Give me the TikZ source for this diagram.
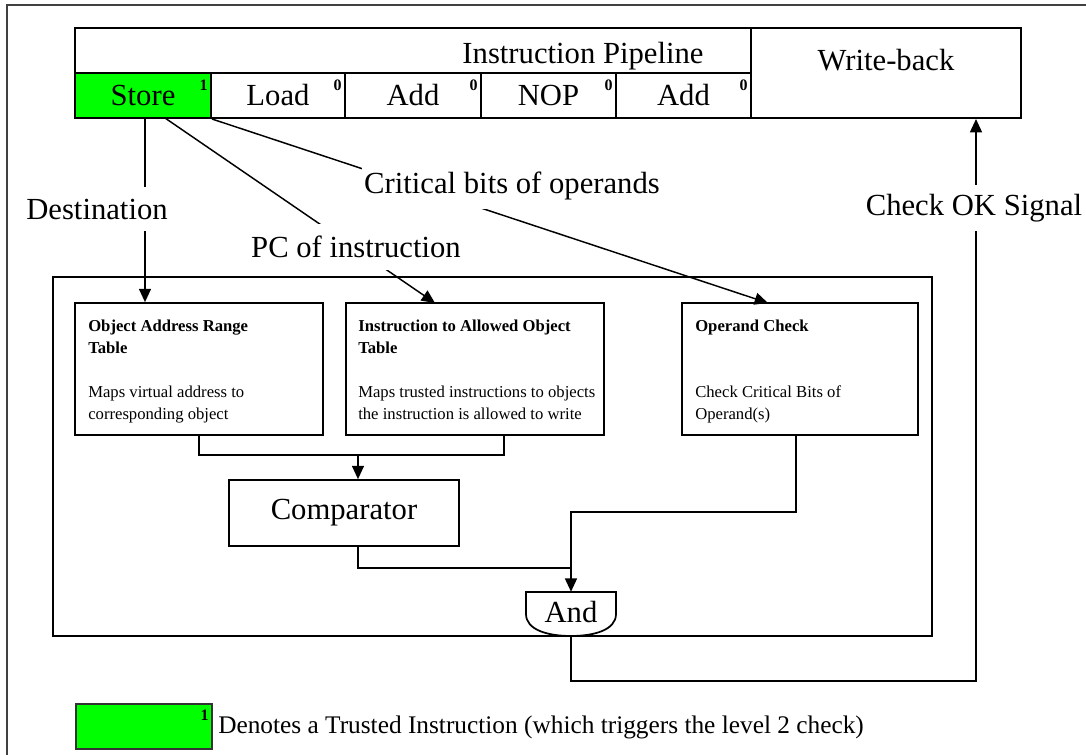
\documentclass[tikz,border=0pt]{standalone}
\usepackage{fontspec}
\setmainfont{Liberation Serif}
\usetikzlibrary{arrows.meta,fit,calc}
\definecolor{trustgreen}{RGB}{0,255,0}
\begin{document}
\begin{tikzpicture}[x=0.75pt,y=-0.75pt,
  big/.style={font=\fontsize{23}{27}\selectfont},
  small/.style={font=\fontsize{12.5}{16.5}\selectfont},
  cell/.style={draw, line width=1.5pt, inner sep=0pt},
  box/.style={draw, line width=1.3pt, inner sep=0pt},
  boxtext/.style={small, anchor=north west, align=left, inner sep=0pt},
  wire/.style={line width=1.1pt},
  arrow/.style={wire, -{Triangle[length=10pt,width=9pt]}},
  tag/.style={font=\fontsize{12}{12}\selectfont\bfseries, inner sep=0pt, anchor=north east},
  lbl/.style={big, fill=white, inner xsep=2pt}
]
\useasboundingbox (0,0) rectangle (1086,754);
\clip (0,0) rectangle (1086,754);
\draw[line width=1.4pt, black!75] (7,5) rectangle (1110,780);

% pipeline
\node[cell, fit={(75,28)(1021,118)}] (pipe) {};
\node[cell, fit={(751,28)(1021,118)}] (wb) {};
\node[big] (pipet) at (583,56) {Instruction Pipeline};
\node[big] (wbt) at (886,60) {Write-back};
\node[cell, fill=trustgreen, fit={(75,73)(211,118)}] (s1) {};
\node[cell, fit={(211,73)(345,118)}] (s2) {};
\node[cell, fit={(345,73)(481,118)}] (s3) {};
\node[cell, fit={(481,73)(616,118)}] (s4) {};
\node[cell, fit={(616,73)(751,118)}] (s5) {};
\node[big] (s1t) at (s1.center) {Store};
\node[big] (s2t) at (s2.center) {Load};
\node[big] (s3t) at (s3.center) {Add};
\node[big] (s4t) at (s4.center) {NOP};
\node[big] (s5t) at (s5.center) {Add};
\node[tag] (t1) at ($(s1.north east)+(-4,8)$) {1};
\node[tag] (t2) at ($(s2.north east)+(-4,8)$) {0};
\node[tag] (t3) at ($(s3.north east)+(-4,8)$) {0};
\node[tag] (t4) at ($(s4.north east)+(-4,8)$) {0};
\node[tag] (t5) at ($(s5.north east)+(-4,8)$) {0};

% checking unit
\node[box, fit={(53,277)(932,636)}] (core) {};
\node[box, fit={(75,303)(323,435)}] (oart) {};
\node[boxtext] (oartt) at (88,320) {\textbf{Object Address Range}\\\textbf{Table}\\[16.5pt]Maps virtual address to\\corresponding object};
\node[box, fit={(346,303)(604,435)}] (inst) {};
\node[boxtext] (instt) at (358,320) {\textbf{Instruction to Allowed Object}\\\textbf{Table}\\[16.5pt]Maps trusted instructions to objects\\the instruction is allowed to write};
\node[box, fit={(682,303)(918,435)}] (opc) {};
\node[boxtext] (opct) at (695,320) {\textbf{Operand Check}\\[33pt]Check Critical Bits of\\Operand(s)};
\node[box, fit={(229,480)(459,546)}] (comp) {};
\node[big] (compt) at (comp.center) {Comparator};
\draw[box] (526,592) -- (616,592) -- (616,614) .. controls (616,630) and (594,636) .. (571,636) .. controls (548,636) and (526,630) .. (526,614) -- cycle;
\node[inner sep=0pt, fit={(526,592)(616,636)}] (and) {};
\node[big] (andt) at (571,612) {And};

% coordinates
\coordinate (sd) at (145,118);
\coordinate (sp) at (165,118);
\coordinate (ipc) at (435,303);
\coordinate (ocb) at (768,303);
\coordinate (opcout) at (796,435);
\coordinate (instout) at (504,435);
\coordinate (j1b) at (504,455);
\coordinate (j1) at (358,455);
\coordinate (j2) at (571,568);
\coordinate (j3) at (571,512);
\coordinate (ret) at (976,681);

% connectors
\draw[arrow] (sd) -- (sd |- oart.north);
\draw[arrow] (sp) -- (ipc);
\draw[arrow] (s1.south east) -- (ocb);
\draw[wire] (oart.south) |- (j1b) -- (instout);
\draw[arrow] (j1) -- (j1 |- comp.north);
\draw[wire] (j1 |- comp.south) |- (j2);
\draw[arrow] (opcout) |- (j3) -- (and.north);
\draw[arrow] (and.south) |- (ret) -- (ret |- pipe.south);

% labels on connectors
\node[lbl, inner ysep=9pt] (ldest) at (97,209) {Destination};
\node[lbl, inner ysep=9pt] (lpc) at (356,247) {PC of instruction};
\node[lbl, inner ysep=7pt] (lcrit) at (512,186) {Critical bits of operands};
\node[lbl, inner ysep=7pt] (lok) at (974,208) {Check OK Signal};

% legend
\node[draw, line width=1.2pt, black!80, fill=trustgreen, fit={(76,704)(212,749)}, inner sep=0pt] (leg) {};
\node[tag] (legtag) at ($(leg.north east)+(-4,6)$) {1};
\node[font=\fontsize{19}{22}\selectfont, anchor=west, inner sep=0pt] (legt) at (218,727) {Denotes a Trusted Instruction (which triggers the level 2 check)};
\end{tikzpicture}
\end{document}
